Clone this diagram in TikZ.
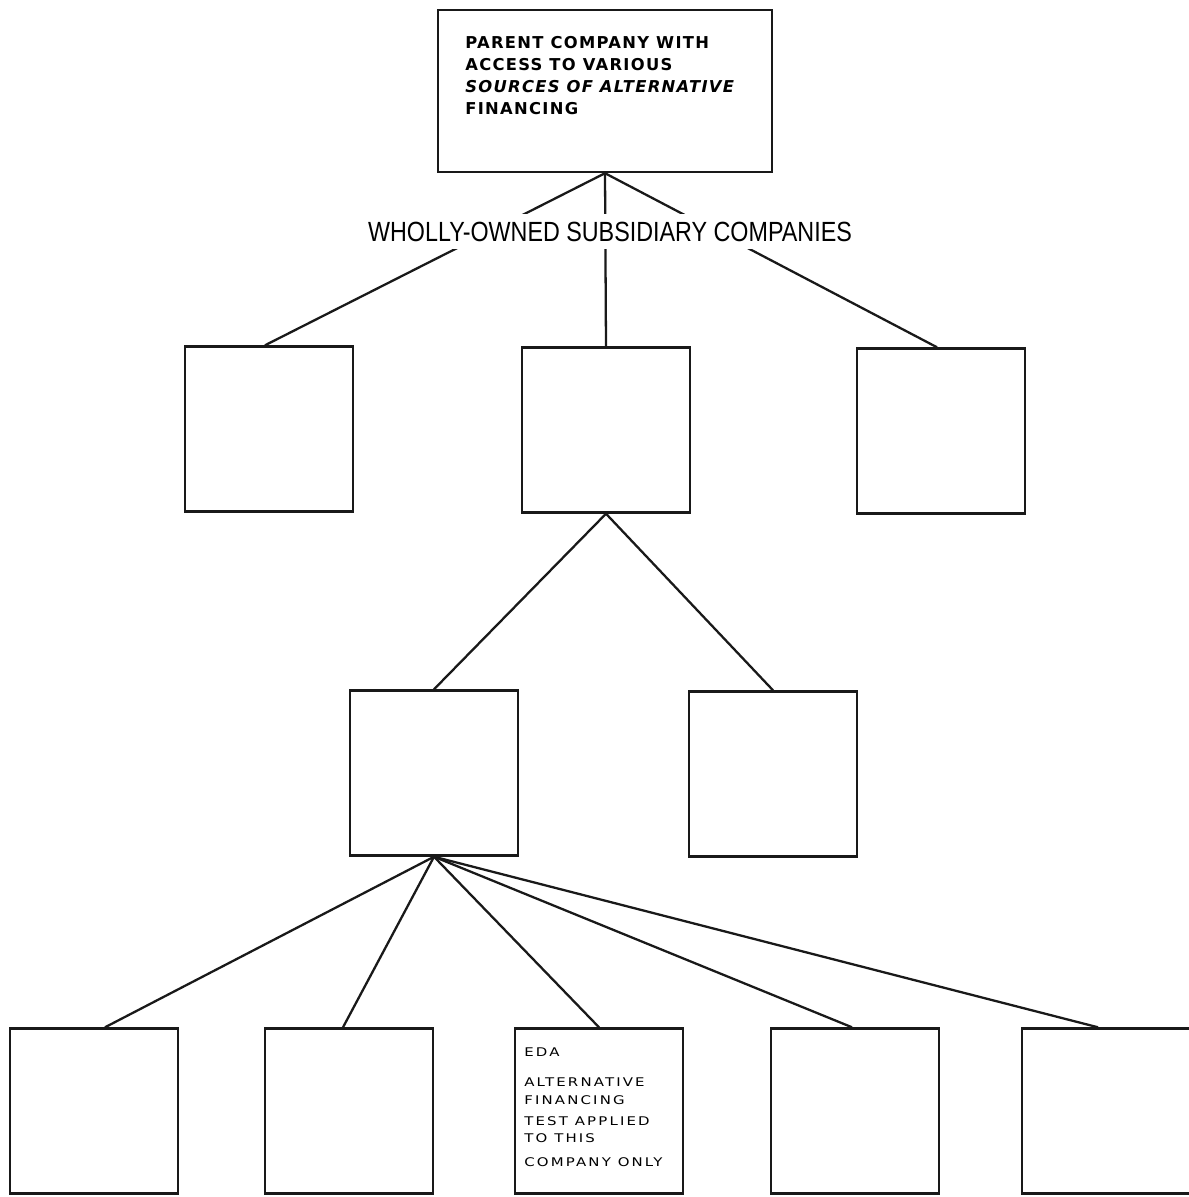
\documentclass[tikz,border=0pt]{standalone}
\usepackage{fontspec}
\setmainfont{Liberation Sans}
\newfontfamily\parentfont[LetterSpace=8]{DejaVu Sans}
\newfontfamily\headfont[FakeStretch=0.84]{Liberation Sans}
\newfontfamily\edafont[FakeStretch=1.25,LetterSpace=18]{DejaVu Sans}
\usetikzlibrary{positioning, calc}

\begin{document}
\begin{tikzpicture}[x=0.02cm, y=-0.02cm,
    company/.style={rectangle, draw=black!90, line width=1.4pt, minimum width=3.36cm, minimum height=3.3cm, inner sep=0pt},
    link/.style={draw=black!90, line width=1.3pt},
    boxtext/.style={anchor=north west, inner sep=0pt, align=left}]

\useasboundingbox (0,0) rectangle (1188,1197);

% parent and first level
\node (parent) [company, minimum width=6.68cm, minimum height=3.24cm] at (605,91) {};
\node (parenttext) [boxtext, font=\parentfont\bfseries\fontsize{9.3}{12.5}\selectfont] at (465,36)
  {PARENT COMPANY WITH\\ACCESS TO VARIOUS\\\itshape SOURCES OF ALTERNATIVE\\FINANCING};

\node (sub1) [company] at (269,429) {};
\node (sub2) [company] at (606,430) {};
\node (sub3) [company] at (941,431) {};

% second level
\node (sub2a) [company] at (434,773) {};
\node (sub2b) [company] at (773,774) {};

% third level
\node (firm1) [company] at (94,1111) {};
\node (firm2) [company] at (349,1111) {};
\node (eda) [company] at (599,1111) {};
\node (firm4) [company] at (855,1111) {};
\node (firm5) [company] at (1106,1111) {};
\node (edatext) [boxtext, font=\edafont\fontsize{6.8}{9.7}\selectfont] at (524,1047)
  {EDA\\[0.26cm]ALTERNATIVE\\[0.02cm]FINANCING\\[0.08cm]TEST APPLIED\\TO THIS\\[0.14cm]COMPANY ONLY};

\draw [link] (parent.south) -- ([xshift=-0.08cm]sub1.north);
\draw [link] (parent.south) -- (sub2.north);
\draw [link] (parent.south) -- ([xshift=-0.08cm]sub3.north);

\draw [link] (sub2.south) -- (sub2a.north);
\draw [link] (sub2.south) -- (sub2b.north);

\draw [link] (sub2a.south) -- ([xshift=0.22cm]firm1.north);
\draw [link] (sub2a.south) -- ([xshift=-0.12cm]firm2.north);
\draw [link] (sub2a.south) -- (eda.north);
\draw [link] (sub2a.south) -- ([xshift=-0.06cm]firm4.north);
\draw [link] (sub2a.south) -- ([xshift=-0.16cm]firm5.north);

\node (wholly) [fill=white, inner xsep=0.05cm, inner ysep=0.15cm, anchor=base, font=\headfont\fontsize{15.8}{18}\selectfont] at (610,241)
  {WHOLLY-OWNED SUBSIDIARY COMPANIES};

\end{tikzpicture}
\end{document}
